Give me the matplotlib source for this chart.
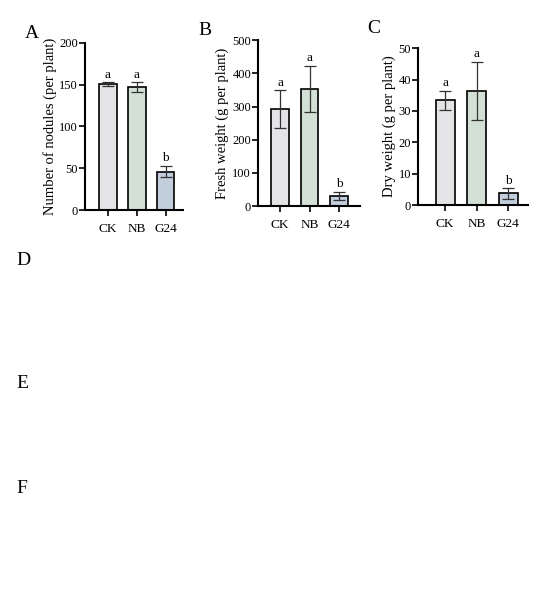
import matplotlib
matplotlib.use("Agg")
import matplotlib.pyplot as plt

plt.rcParams["font.family"] = ["Liberation Serif", "DejaVu Serif"]

groups = ["CK", "NB", "G24"]
colors = ["#e4e4e6", "#d2e0d5", "#c2cedc"]

nodules = [151, 147, 46]
nodules_err = [2, 6, 7]
fresh = [292, 353, 31]
fresh_err = [57, 70, 13]
dry = [33.4, 36.3, 3.7]
dry_err = [3.0, 9.3, 1.7]
letters = ["a", "a", "b"]

panels = [
    # rect, values, errors, ylabel, ylim, yticks, xlim, tag, tag pos
    ([0.1545, 0.6546, 0.178, 0.2747], nodules, nodules_err,
     "Number of nodules (per plant)", 200, [0, 50, 100, 150, 200], (-0.79, 2.59), "A", (0.045, 0.945)),
    ([0.469, 0.661, 0.1855, 0.273], fresh, fresh_err,
     "Fresh weight (g per plant)", 500, [0, 100, 200, 300, 400, 500], (-0.75, 2.71), "B", (0.36, 0.95)),
    ([0.76, 0.6628, 0.2, 0.258], dry, dry_err,
     "Dry weight (g per plant)", 50, [0, 10, 20, 30, 40, 50], (-0.86, 2.63), "C", (0.667, 0.953)),
]

fig = plt.figure(figsize=(5.5, 6.08), dpi=100)

for rect, vals, errs, ylab, ymax, yt, xl, tag, tp in panels:
    ax = fig.add_axes(rect)
    x = range(len(groups))
    ax.bar(x, vals, width=0.6, color=colors, edgecolor="black", linewidth=1.2, zorder=2)
    ax.errorbar(x, vals, yerr=errs, fmt="none", ecolor="#333333", elinewidth=0.9,
                capsize=4, capthick=0.9, zorder=3)
    for xi, v, e, l in zip(x, vals, errs, letters):
        ax.text(xi, v + e + ymax * 0.01, l, ha="center", va="bottom", fontsize=9.5)
    ax.set_ylim(0, ymax)
    ax.set_xlim(*xl)
    ax.set_yticks(yt)
    ax.set_xticks(list(x))
    ax.set_xticklabels(groups, fontsize=9.5)
    ax.tick_params(axis="y", labelsize=9, width=1.2, length=4, pad=1)
    ax.tick_params(axis="x", width=1.2, length=4, pad=5)
    ax.set_ylabel(ylab, fontsize=10.5, labelpad=2)
    for s in ["top", "right"]:
        ax.spines[s].set_visible(False)
    for s in ["left", "bottom"]:
        ax.spines[s].set_linewidth(1.5)
    fig.text(tp[0], tp[1], tag, fontsize=14, ha="left", va="center")

# photo panel labels
for tag, y in [("D", 0.571), ("E", 0.37), ("F", 0.197)]:
    fig.text(0.03, y, tag, fontsize=14, ha="left", va="center")

fig.savefig("out.png", dpi=100)
